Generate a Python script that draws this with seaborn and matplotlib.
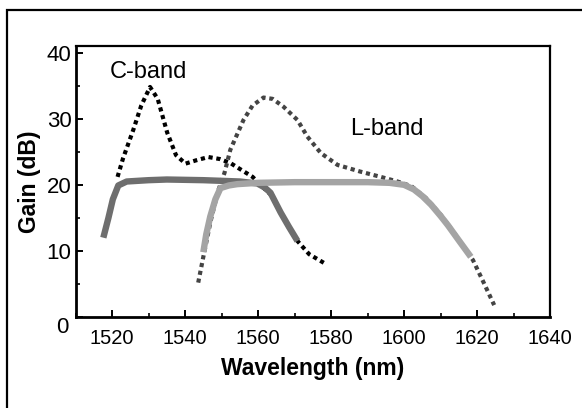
import matplotlib
matplotlib.use("Agg")
import matplotlib.pyplot as plt
import matplotlib.transforms as mtransforms
from matplotlib.patches import Rectangle
from matplotlib.ticker import MultipleLocator
import seaborn as sns
import pandas as pd

# ---- data ----
c_dot_x = [1521.5, 1523, 1525.8, 1528, 1530.4, 1532.5, 1535.1, 1537.5, 1540.1, 1543,
           1546.4, 1549.5, 1552.4, 1555, 1558.5, 1561, 1563.5, 1566.2, 1568.5, 1570.8,
           1574, 1578]
c_dot_y = [21.2, 24, 28.3, 32, 34.8, 33, 27.9, 24.5, 23.2, 23.7,
           24.2, 23.9, 23.3, 22.4, 21.2, 19.8, 18.5, 15.8, 13.5, 11.5,
           9.5, 8.2]

c_sol_x = [1517.6, 1519, 1520.2, 1521.7, 1524, 1530, 1535, 1545, 1555, 1559.8,
           1561.8, 1563.4, 1566.2, 1568.5, 1570.8]
c_sol_y = [12.0, 15.0, 17.8, 19.9, 20.5, 20.7, 20.8, 20.7, 20.5, 20.2,
           19.6, 18.8, 15.8, 13.6, 11.5]

l_dot_x = [1543.6, 1545, 1547, 1549, 1550.8, 1552.4, 1556, 1558.5, 1561.5, 1564,
           1567, 1570.8, 1573.5, 1577.2, 1581.8, 1588, 1593.6, 1598.2, 1602, 1606,
           1610, 1614, 1618.9, 1622, 1624.7]
l_dot_y = [5.2, 9.1, 14.5, 19, 21.8, 25.3, 29.8, 32.0, 33.2, 33.0,
           31.8, 29.8, 27.3, 24.8, 23.0, 22.0, 21.2, 20.5, 19.8, 18,
           15.5, 12.5, 8.6, 5, 1.8]

l_sol_x = [1545, 1545.8, 1546.9, 1548.3, 1549.7, 1552, 1554.3, 1560, 1570, 1580,
           1590, 1596, 1600, 1602.7, 1605, 1607.4, 1610, 1612, 1615, 1618.3]
l_sol_y = [9.8, 12.5, 15.2, 17.8, 19.5, 19.9, 20.1, 20.3, 20.4, 20.4,
           20.4, 20.3, 20.0, 19.3, 18.3, 17.0, 15.3, 13.9, 11.6, 9.1]

x_ticks = [1520, 1540, 1560, 1580, 1600, 1620, 1640]
y_ticks = [0, 10, 20, 30, 40]
x_label = "Wavelength (nm)"
y_label = "Gain (dB)"
band_labels = ["C-band", "L-band"]
band_label_pos = [(1529.9, 37.1), (1595.3, 28.5)]

# ---- style ----
sns.set_style("ticks")
plt.rcParams['font.family'] = ['Liberation Sans', 'DejaVu Sans']

fig = plt.figure(figsize=(5.82, 4.08), dpi=100)
ax = fig.add_axes([75.6 / 582, 1 - 317 / 408, (550 - 75.6) / 582, (317 - 46) / 408])

def draw(x, y, color, lw, ls, z):
    df = pd.DataFrame({"x": x, "y": y})
    sns.lineplot(data=df, x="x", y="y", ax=ax, sort=False, estimator=None,
                 color=color, linewidth=lw, linestyle=ls, zorder=z)

draw(c_dot_x, c_dot_y, "#000000", 3.0, (0, (1, 0.9)), 2)
draw(l_dot_x, l_dot_y, "#444444", 3.0, (0, (1, 0.9)), 2)
draw(c_sol_x, c_sol_y, "#6e6e6e", 4.6, "-", 3)
draw(l_sol_x, l_sol_y, "#a4a4a4", 4.6, "-", 4)

for line in ax.get_lines():
    line.set_dash_capstyle("butt")
    line.set_solid_capstyle("butt")

ax.set_xlim(1510, 1640)
ax.set_ylim(0, 41)
ax.set_xticks(x_ticks)
ax.set_yticks(y_ticks)
ax.xaxis.set_minor_locator(MultipleLocator(10))
ax.yaxis.set_minor_locator(MultipleLocator(5))
ax.tick_params(which="major", direction="in", length=5, width=1.4, color="black",
               top=False, right=False)
ax.tick_params(which="minor", direction="in", length=3, width=1.2, color="black",
               top=False, right=False)
ax.tick_params(axis="x", which="major", labelsize=14.5, pad=9)
ax.tick_params(axis="y", which="major", labelsize=16, pad=3)
for lab in ax.get_xticklabels() + ax.get_yticklabels():
    lab.set_color("#000000")

# the "0" label sits lower and to the left in the reference
lab0 = ax.get_yticklabels()[0]
lab0.set_transform(lab0.get_transform() +
                   mtransforms.ScaledTranslation(-3 / 100, -8 / 100, fig.dpi_scale_trans))

for side in ["left", "bottom"]:
    ax.spines[side].set_linewidth(2.0)
for side in ["top", "right"]:
    ax.spines[side].set_linewidth(1.6)
    ax.spines[side].set_visible(True)
for sp in ax.spines.values():
    sp.set_color("black")

ax.set_xlabel(x_label, fontsize=16.5, fontweight="bold", labelpad=6, color="black")
ax.set_ylabel(y_label, fontsize=16.5, fontweight="bold", labelpad=4, color="black")

for txt, (tx, ty) in zip(band_labels, band_label_pos):
    ax.text(tx, ty, txt, fontsize=17, ha="center", va="center", zorder=5, color="black")

# outer frame (extends beyond the right and bottom edges)
fig.patches.append(Rectangle((7 / 582, -0.2), 1.5, 0.2 + (1 - 10 / 408),
                             transform=fig.transFigure, fill=False,
                             edgecolor="black", linewidth=1.6, clip_on=False))

fig.savefig("out.png", dpi=100)
